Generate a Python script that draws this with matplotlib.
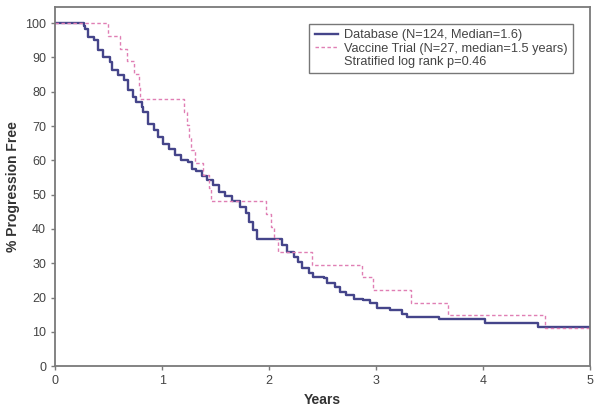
import matplotlib
matplotlib.use("Agg")
import matplotlib.pyplot as plt
from matplotlib.lines import Line2D

plt.rcParams['font.family'] = ['Liberation Sans', 'DejaVu Sans']

# Database cohort (N=124), step change points
db_years = [0.0, 0.265, 0.28, 0.31, 0.36, 0.40, 0.45, 0.51, 0.53, 0.59, 0.64,
            0.685, 0.73, 0.76, 0.81, 0.825, 0.87, 0.92, 0.965, 1.01, 1.06,
            1.12, 1.18, 1.245, 1.28, 1.32, 1.37, 1.42, 1.48, 1.53, 1.59, 1.65,
            1.73, 1.78, 1.81, 1.85, 1.885, 2.09, 2.12, 2.165, 2.23, 2.27, 2.305,
            2.37, 2.41, 2.51, 2.54, 2.62, 2.66, 2.72, 2.79, 2.88, 2.94, 3.01,
            3.13, 3.24, 3.29, 3.59, 4.02, 4.52, 5.0]
db_surv = [100, 99.2, 98.4, 96.0, 95.0, 92.1, 90.2, 88.7, 86.3, 84.8, 83.4,
           80.5, 78.6, 77.1, 75.6, 74.1, 70.7, 68.8, 66.8, 64.9, 63.4,
           61.5, 60.1, 59.4, 57.6, 57.0, 55.3, 54.2, 52.8, 50.8, 49.5, 48.0,
           46.5, 44.5, 42.1, 39.7, 37.1, 37.1, 35.3, 33.3, 31.9, 30.4, 28.5,
           27.0, 26.1, 25.6, 24.1, 23.2, 21.5, 20.7, 19.7, 19.2, 18.3, 16.8,
           16.3, 15.3, 14.4, 13.6, 12.7, 11.3, 11.3]

# Vaccine trial (N=27)
vac_years = [0.0, 0.495, 0.61, 0.67, 0.74, 0.78, 0.79, 1.20, 1.23, 1.25, 1.27,
             1.31, 1.386, 1.44, 1.46, 1.97, 2.02, 2.05, 2.08, 2.40, 2.87, 2.97,
             3.33, 3.67, 4.58, 5.0]
vac_surv = [100, 96.3, 92.6, 88.9, 85.2, 81.5, 77.8, 74.1, 70.4, 66.7, 63.0,
            59.3, 55.6, 51.9, 48.1, 44.4, 40.7, 37.0, 33.3, 29.6, 25.9, 22.2,
            18.5, 14.8, 11.1, 11.1]

fig = plt.figure(figsize=(6.0, 4.16), dpi=100)
ax = fig.add_axes([0.092, 0.12, 0.891, 0.863])

ax.plot(db_years, db_surv, drawstyle='steps-post', color='#45458a', linewidth=1.7)
ax.plot(vac_years, vac_surv, drawstyle='steps-post', color='#e07fb4',
        linewidth=1.0, linestyle=(0, (2.5, 1.8)))

ax.set_xlim(0, 5)
ax.set_ylim(0, 104.7)
ax.set_xticks(range(0, 6))
ax.set_yticks(range(0, 101, 10))

for s in ax.spines.values():
    s.set_color('#7a7a7a')
    s.set_linewidth(1.3)
ax.tick_params(axis='both', colors='#7a7a7a', labelcolor='#444444',
               labelsize=9, length=3, width=1)

ax.set_xlabel('Years', fontsize=10, fontweight='bold', color='#333333', labelpad=4)
ax.set_ylabel('% Progression Free', fontsize=10, fontweight='bold', color='#333333',
              labelpad=4)

handles = [
    Line2D([], [], color='#45458a', linewidth=1.7),
    Line2D([], [], color='#e07fb4', linewidth=1.0, linestyle=(0, (2.5, 1.8))),
    Line2D([], [], color='none'),
]
labels = ['Database (N=124, Median=1.6)',
          'Vaccine Trial (N=27, median=1.5 years)',
          'Stratified log rank p=0.46']
leg = ax.legend(handles, labels, loc='upper right', bbox_to_anchor=(0.968, 0.953),
                fontsize=9.2, frameon=True, fancybox=False, handlelength=1.8,
                handletextpad=0.5, borderpad=0.4, labelspacing=0.12,
                borderaxespad=0)
leg.get_frame().set_edgecolor('#555555')
leg.get_frame().set_linewidth(1.0)
for t in leg.get_texts():
    t.set_color('#444444')

fig.savefig('out.png', dpi=100)
